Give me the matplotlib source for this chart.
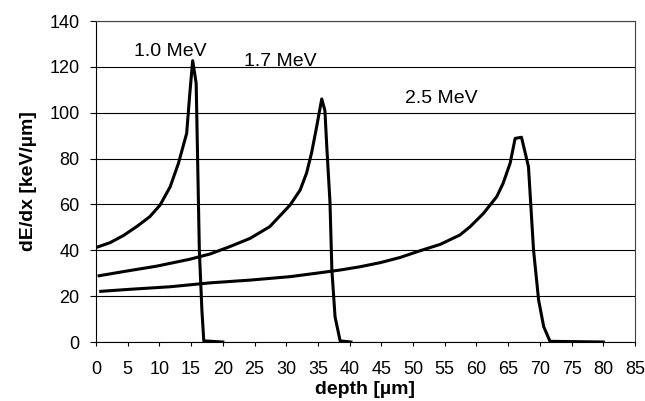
import numpy as np
from matplotlib import pyplot as plt

plt.rcParams['font.family'] = ['Liberation Sans', 'DejaVu Sans']

# stopping power curves, depth in um and dE/dx in keV/um
depth_1_0 = [0.1, 2.2, 4.3, 6.4, 8.5, 10.1, 11.7, 13.0, 14.3, 14.8, 15.25,
             15.8, 16.0, 16.3, 16.7, 17.0, 20.0]
dedx_1_0 = [41.3, 43.3, 46.4, 50.3, 54.7, 59.7, 67.7, 77.9, 91.0, 108.5, 122.7,
            112.8, 83.7, 40.0, 14.0, 0.5, 0.0]

depth_1_7 = [0.5, 4.3, 9.6, 14.8, 18.0, 21.1, 24.3, 27.4, 30.6, 32.2, 33.2,
             34.0, 34.8, 35.6, 36.1, 36.4, 36.9, 37.2, 37.7, 38.5, 40.2]
dedx_1_7 = [28.9, 30.7, 33.1, 36.1, 38.4, 41.6, 45.2, 50.3, 59.7, 66.3, 73.6,
            82.5, 93.9, 106.0, 101.0, 85.0, 61.0, 31.4, 11.0, 0.5, 0.0]

depth_2_5 = [0.75, 5.4, 11.7, 18.0, 24.3, 30.6, 35.3, 38.5, 41.6, 44.8, 48.0,
             51.1, 54.3, 57.4, 59.0, 60.6, 61.1, 63.2, 64.2, 65.3, 66.1, 67.1,
             68.2, 69.0, 69.8, 70.6, 71.6, 80.0]
dedx_2_5 = [22.1, 23.0, 24.1, 25.8, 27.0, 28.5, 30.2, 31.4, 32.8, 34.6, 36.9,
            39.8, 42.6, 46.7, 50.3, 54.7, 56.1, 63.4, 69.2, 77.9, 88.8, 89.3,
            76.5, 40.1, 18.3, 6.7, 0.3, 0.0]

energies = ['1.0 MeV', '1.7 MeV', '2.5 MeV']
label_x = [11.7, 29.0, 54.5]
label_y = [126.5, 122.2, 106.3]

fig = plt.figure(figsize=(6.45, 4.01), dpi=100)
ax = fig.add_axes([0.1488, 0.1471, 0.9845 - 0.1488, 0.9476 - 0.1471])

for xdata, ydata in ((depth_1_0, dedx_1_0), (depth_1_7, dedx_1_7),
                     (depth_2_5, dedx_2_5)):
    ax.plot(xdata, ydata, color='black', lw=2.2, solid_joinstyle='round',
            zorder=3)

for text, x, y in zip(energies, label_x, label_y):
    ax.text(x, y, text, fontsize=14, ha='center', va='center')

ax.set_xlim(0, 85)
ax.set_ylim(0, 140)
ax.set_xticks(np.arange(0, 86, 5))
ax.set_yticks(np.arange(0, 141, 20))
ax.yaxis.grid(True, color='black', lw=0.8)
ax.tick_params(axis='x', direction='out', length=3, labelsize=13, pad=10.5)
ax.tick_params(axis='y', direction='out', length=4.3, labelsize=13, pad=7.5)
for side in ('top', 'right'):
    ax.spines[side].set_color('#404040')
ax.set_xlabel('depth [µm]', fontsize=14, fontweight='bold', labelpad=2)
ax.set_ylabel('dE/dx [keV/µm]', fontsize=14, fontweight='bold', labelpad=9)

fig.savefig('out.png', dpi=100)
